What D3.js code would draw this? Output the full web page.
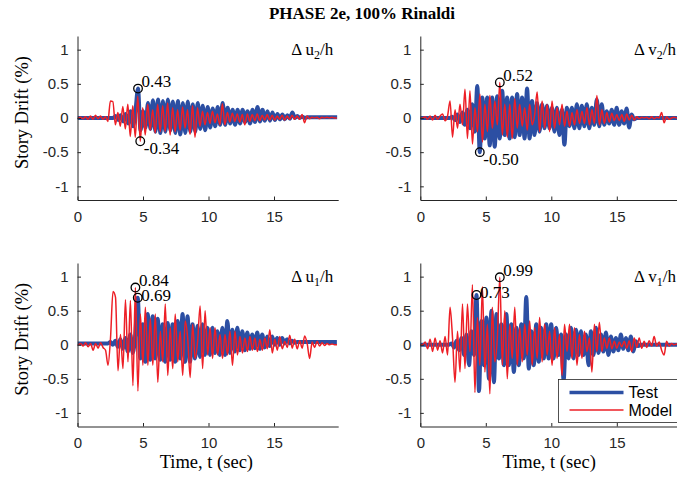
<!DOCTYPE html>
<html>
<head>
<meta charset="utf-8">
<script src="https://cdn.jsdelivr.net/npm/d3@7"></script>
<style>
    body { margin: 0; background: #fff; }
    svg { display: block; }
    .tick text { font-family: "Liberation Sans", Arial, sans-serif; font-size: 15px; fill: #262626; }
    .tick line, .domain { stroke: #262626; }
    .serif { font-family: "Liberation Serif", "Times New Roman", serif; fill: #000; }
    .legend-lab { font-family: "Liberation Sans", Arial, sans-serif; font-size: 16px; fill: #000; }
</style>
</head>
<body>
<div id="chart"></div>
<script>
// sampling step of the peak arrays (sec) and end of record
const DT = 0.19;
const T_END = 19.9;

const xTicks = [0, 5, 10, 15];
const yTicks = [-1, -0.5, 0, 0.5, 1];
const seriesNames = ['Test', 'Model'];

// ---- Delta u2 / h (upper floor, u direction) ----
const u2TestStart = 0.06;
const u2Test = [0, 0, 0, 0, 0, 0, 0, 0, 0, 0, 0, 0, 0, 0,
    0, 0.03, -0.03, 0.04, -0.05, 0.06, -0.08, 0.1, -0.12, 0.12,
    0.43, -0.18, 0.1, -0.14, 0.22, -0.16, 0.26, -0.2, 0.27, -0.22,
    0.25, -0.2, 0.27, -0.18, 0.24, -0.22, 0.25, -0.24, 0.22, -0.22,
    0.24, -0.2, 0.2, -0.2, 0.22, -0.16, 0.18, -0.18, 0.16, -0.14,
    0.14, -0.12, 0.16, -0.1, 0.22, -0.1, 0.15, -0.08, 0.12, -0.1,
    0.12, -0.08, 0.12, -0.06, 0.1, -0.08, 0.12, -0.06, 0.16, -0.05,
    0.12, -0.04, 0.1, -0.04, 0.08, -0.03, 0.06, -0.02, 0.05, -0.02,
    0.04, -0.01, 0.08, 0, 0.03, 0, 0.02, 0,
    0.01, 0.01, 0.01, 0.01, 0.01, 0.01, 0.01, 0.01, 0.01, 0.01, 0.01, 0.01, 0.01];
const u2ModelStart = 0.04;
const u2Model = [0, 0.01, -0.01, 0.02, -0.02, 0.03, -0.02, 0.04, -0.01, 0.03,
    -0.02, 0.02, -0.05, 0.25, 0.24, -0.1, 0.08, -0.12, 0.17, -0.16,
    0.2, -0.27, 0.18, -0.28, 0.32, -0.34, 0.15, -0.25, 0.2, -0.18,
    0.12, -0.22, 0.2, -0.2, 0.18, -0.2, 0.22, -0.25, 0.15, -0.2,
    0.12, -0.18, 0.16, -0.15, 0.12, -0.24, 0.18, -0.28, 0.15, -0.12,
    0.1, -0.1, 0.08, -0.08, 0.1, -0.07, 0.06, -0.1, 0.21, -0.1,
    0.08, -0.06, 0.07, -0.05, 0.06, -0.06, 0.05, -0.1, 0.06, -0.05,
    0.05, -0.04, 0.06, -0.04, 0.04, -0.03, 0.05, -0.03, 0.04, -0.03,
    0.03, -0.02, 0.04, -0.03, 0.03, -0.02, 0.04, -0.02, 0.03, -0.02,
    0.05, -0.07, 0.03, -0.01, 0.01, 0, 0.01, -0.01, 0.01, 0,
    0.01, 0, 0.01, 0, 0];
const u2Marks = [['Test', 'max'], ['Model', 'min']];

// ---- Delta v2 / h ----
const v2TestStart = 0.17;
const v2Test = [0, 0, 0, 0, 0, 0, 0, 0, 0, 0, 0, 0,
    0.02, -0.03, 0.05, -0.06, 0.08, -0.1, 0.12, -0.15, 0.2, -0.2,
    0.47, -0.5, 0.3, -0.3, 0.3, -0.4, 0.3, -0.42, 0.32, -0.3,
    0.4, -0.25, 0.3, -0.3, 0.3, -0.28, 0.35, -0.25, 0.3, -0.3,
    0.43, -0.3, 0.25, -0.25, 0.22, -0.2, 0.2, -0.15, 0.18, -0.15,
    0.15, -0.2, 0.15, -0.25, 0.12, -0.39, 0.15, -0.12, 0.15, -0.15,
    0.2, -0.15, 0.18, -0.12, 0.2, -0.15, 0.15, -0.1, 0.27, -0.12,
    0.2, -0.1, 0.1, -0.08, 0.12, -0.1, 0.15, -0.1, 0.1, -0.08,
    0.14, -0.14, 0.05, -0.02,
    0, 0, 0, 0, 0, 0, 0, 0, 0, 0, 0, 0, 0, 0, 0, 0, 0, 0];
const v2ModelStart = 0.18;
const v2Model = [0, 0.02, -0.02, 0.03, -0.03, 0.04, -0.02, 0.03, 0.06, -0.04,
    0.03, 0.25, -0.28, 0.12, -0.15, 0.2, -0.1, 0.42, -0.3, 0.4,
    -0.38, 0.15, -0.2, 0.35, -0.35, 0.2, -0.2, 0.33, -0.15, 0.25,
    -0.1, 0.52, -0.25, 0.2, -0.28, 0.2, -0.3, 0.28, -0.15, 0.2,
    -0.12, 0.15, -0.18, 0.2, -0.1, 0.05, 0.38, -0.2, 0.25, -0.15,
    0.2, -0.2, 0.25, -0.15, 0.15, -0.1, 0.2, -0.12, 0.1, -0.12,
    0.08, -0.1, 0.12, -0.08, 0.1, -0.08, 0.15, -0.1, 0.12, -0.08,
    0.33, -0.1, 0.12, -0.08, 0.08, -0.06, 0.07, -0.04, 0.05, -0.04,
    0.05, -0.05, 0.06, -0.03, 0.04, -0.03, 0.02, -0.01, 0.01, 0,
    0.01, -0.01, 0.02, -0.01, 0.01, 0, 0.08, -0.07, 0.02, -0.02,
    0, 0.01, 0, 0];
const v2Marks = [['Model', 'max'], ['Test', 'min']];

// ---- Delta u1 / h ----
const u1TestStart = 0.04;
const u1Test = [0.02, 0.02, 0.02, 0.02, 0.02, 0.02, 0.02, 0.02, 0.02, 0.02, 0.02, 0.02, 0.02,
    0.04, 0, 0.06, -0.03, 0.08, -0.06, 0.1, -0.1, 0.15, -0.12, 0.15,
    0.69, -0.2, 0.3, -0.25, 0.45, -0.22, 0.42, -0.2, 0.38, -0.22,
    0.3, -0.25, 0.32, -0.22, 0.3, -0.25, 0.35, -0.2, 0.45, -0.25,
    0.42, -0.25, 0.3, -0.2, 0.28, -0.18, 0.3, -0.15, 0.25, -0.15,
    0.25, -0.12, 0.2, -0.15, 0.25, -0.15, 0.35, -0.12, 0.22, -0.1,
    0.25, -0.08, 0.2, -0.08, 0.18, -0.06, 0.15, -0.05, 0.18, -0.06,
    0.15, -0.04, 0.12, -0.02, 0.12, 0, 0.1, 0, 0.1, 0.02,
    0.08, 0.02, 0.06, 0.03,
    0.04, 0.04, 0.04, 0.04, 0.04, 0.04, 0.04, 0.04, 0.04, 0.04, 0.04, 0.04, 0.04, 0.04, 0.04, 0.04, 0.04];
const u1ModelStart = 0.05;
const u1Model = [0, 0.02, -0.02, 0.03, -0.03, 0.02, -0.08, 0.02, -0.05, 0.03,
    -0.04, -0.08, -0.3, 0.1, 0.78, 0.7, -0.38, 0.15, -0.35, 0.66,
    -0.25, 0.65, -0.6, 0.84, -0.68, 0.45, -0.3, 0.55, -0.3, 0.38,
    -0.3, 0.45, -0.55, 0.2, -0.25, 0.6, -0.45, 0.25, -0.35, 0.45,
    -0.25, 0.2, -0.45, 0.35, 0.1, -0.48, 0.3, -0.2, 0.05, 0.57,
    -0.35, 0.5, -0.15, 0.25, -0.2, 0.25, -0.15, 0.15, -0.2, 0.15,
    -0.15, 0.2, -0.3, 0.2, -0.15, 0.12, -0.12, 0.1, -0.1, 0.12,
    -0.08, 0.1, -0.1, 0.08, -0.08, 0.1, -0.06, 0.22, -0.12, 0.08,
    -0.08, 0.12, -0.06, 0.05, -0.04, 0.14, -0.05, 0.08, -0.06, 0.06,
    -0.05, 0.13, 0.02, -0.2, 0.04, -0.04, 0.05, -0.02, 0.03, -0.01,
    0.02, 0, 0.01, 0, 0];
const u1Marks = [['Model', 'max'], ['Test', 'max']];

// ---- Delta v1 / h ----
const v1TestStart = 0.11;
const v1Test = [0, 0, 0, 0, 0, 0, 0, 0, 0, 0, 0, 0,
    0.02, -0.04, 0.06, -0.08, 0.1, -0.15, 0.15, -0.3, 0.2, -0.15,
    0.73, -0.68, 0.35, -0.3, 0.4, -0.5, 0.5, -0.55, 0.45, -0.2,
    0.3, -0.3, 0.45, -0.3, 0.3, -0.4, 0.25, -0.3, 0.3, -0.2,
    0.7, -0.35, 0.2, -0.3, 0.3, -0.25, 0.25, -0.2, 0.3, -0.2,
    0.3, -0.2, 0.25, -0.15, 0.15, -0.52, 0.15, -0.2, 0.25, -0.2,
    0.22, -0.15, 0.2, -0.15, 0.15, -0.3, 0.2, -0.15, 0.25, -0.12,
    0.15, -0.1, 0.18, -0.15, 0.12, -0.1, 0.1, -0.08, 0.15, -0.06,
    0.1, -0.08, 0.12, -0.1, 0.05, -0.02,
    0, 0, 0, 0, 0, 0, 0, 0, 0, 0, 0, 0, 0, 0, 0, 0];
const v1ModelStart = 0.18;
const v1Model = [0, 0.04, -0.06, 0.08, -0.1, 0.1, -0.08, 0.06, -0.12, 0.12,
    -0.15, 0.55, 0.1, -0.55, 0.2, -0.4, 0.6, -0.35, 0.6, -0.1,
    0.88, -0.7, 0.4, -0.3, 0.85, -0.4, 0.3, -0.72, 0.55, -0.25,
    0.1, 0.99, -0.3, 0.5, -0.5, 0.3, -0.2, 0.55, -0.3, 0.25,
    -0.25, 0.3, -0.15, 0.35, -0.3, 0.25, -0.2, 0.4, -0.25, 0.3,
    -0.15, 0.2, -0.3, 0.25, -0.2, 0.15, -0.45, 0.3, -0.1, 0.3,
    -0.2, 0.25, -0.3, 0.15, -0.2, 0.2, -0.1, 0.1, -0.4, 0.3,
    -0.1, 0.33, -0.1, 0.1, -0.05, 0.1, -0.06, 0.05, -0.05, 0.04,
    -0.03, 0.05, -0.05, 0.06, -0.1, 0.1, -0.04, 0.1, -0.05, 0.05,
    -0.04, 0.06, -0.02, 0.12, -0.02, 0.04, -0.08, -0.15, 0.05, -0.02,
    0.02, 0, 0.01, 0];
const v1Marks = [['Test', 'max'], ['Model', 'max']];

const colors = {Test: '#2c4fa3', Model: '#ed1f26'};

class DriftPanel {
    constructor(svg, opts) {
        this.svg = svg;
        this.opts = opts;
        this.initVis();
    }

    initVis() {
        let vis = this;
        let o = vis.opts;

        vis.x = d3.scaleLinear().domain([0, T_END]).range([o.left, o.right]);
        vis.y = d3.scaleLinear().domain([-1.2, 1.2]).range([o.bottom, o.top]);

        vis.g = vis.svg.append('g');

        // clip lines to the axes box
        vis.g.append('clipPath').attr('id', 'clip-' + o.id)
            .append('rect')
            .attr('x', o.left).attr('y', o.top)
            .attr('width', o.right - o.left).attr('height', o.bottom - o.top);

        // series -> [t, v] points
        vis.series = {};
        seriesNames.forEach(name => {
            let vals = o.data[name], t0 = o.start[name];
            let pts = vals.map((v, i) => [t0 + i * DT, v]).filter(p => p[0] <= T_END);
            pts.unshift([0, vals[0]]);
            vis.series[name] = pts;
        });

        vis.updateVis();
    }

    updateVis() {
        let vis = this;
        let o = vis.opts;

        let line = d3.line()
            .x(d => vis.x(d[0]))
            .y(d => vis.y(d[1]))
            .curve(d3.curveMonotoneX);

        vis.g.append('g').attr('clip-path', `url(#clip-${o.id})`)
            .selectAll('path')
            .data(seriesNames)
            .enter().append('path')
            .attr('d', d => line(vis.series[d]))
            .attr('fill', 'none')
            .attr('stroke', d => colors[d])
            .attr('stroke-width', d => d === 'Test' ? 4 : 1.5)
            .attr('stroke-linejoin', 'round');

        // axes (MATLAB style, ticks pointing in)
        vis.g.append('g')
            .attr('transform', `translate(${o.left},0)`)
            .call(d3.axisLeft(vis.y).tickValues(yTicks).tickFormat(d => String(d))
                .tickSizeInner(-3.5).tickSizeOuter(0).tickPadding(9));

        vis.g.append('g')
            .attr('transform', `translate(0,${o.bottom})`)
            .call(d3.axisBottom(vis.x).tickValues(xTicks).tickFormat(d => String(d))
                .tickSizeInner(-3.5).tickSizeOuter(0).tickPadding(11));

        vis.g.selectAll('.domain').attr('stroke-width', 1);

        // peak circles and values
        let peaks = o.marks.map(m => {
            let pts = vis.series[m[0]];
            let p = m[1] === 'max' ? d3.greatest(pts, d => d[1]) : d3.least(pts, d => d[1]);
            return {kind: m[1], v: p[1], cx: vis.x(p[0]), cy: vis.y(p[1])};
        });
        peaks.forEach(p => { p.dy = p.kind === 'max' ? 1.5 : 11; });
        // two maxima side by side: spread their labels a little
        if (peaks.length === 2 && Math.abs(peaks[0].cx - peaks[1].cx) < 30) {
            let [hi, lo] = peaks[0].cy < peaks[1].cy ? peaks : [peaks[1], peaks[0]];
            hi.dy -= 3;
            lo.dy += 1.5;
        }
        peaks.forEach(p => {
            vis.g.append('circle')
                .attr('cx', p.cx).attr('cy', p.cy).attr('r', 4.3)
                .attr('fill', 'none').attr('stroke', '#000').attr('stroke-width', 1.3);
            vis.g.append('text')
                .attr('class', 'serif')
                .attr('x', p.cx + 3.5)
                .attr('y', p.cy + p.dy)
                .style('font-size', '17px')
                .text(p.v.toFixed(2));
        });

        // panel name, e.g. "Δ u2/h"
        let lab = vis.g.append('text')
            .attr('class', 'serif')
            .attr('x', o.right - 5)
            .attr('y', o.top + 19)
            .attr('text-anchor', 'end')
            .style('font-size', '17px');
        lab.append('tspan').text('Δ ' + o.name[0]);
        lab.append('tspan').attr('dy', 4).style('font-size', '12px').text(o.name[1]);
        lab.append('tspan').attr('dy', -4).text('/h');

        if (o.yLabel) {
            vis.g.append('text')
                .attr('class', 'serif')
                .attr('transform', `translate(28,${(o.top + o.bottom) / 2 - 5.5}) rotate(-90)`)
                .attr('text-anchor', 'middle')
                .style('font-size', '18.5px')
                .text('Story Drift (%)');
        }
        if (o.xLabel) {
            vis.g.append('text')
                .attr('class', 'serif')
                .attr('x', (o.left + o.right) / 2 - 1.5)
                .attr('y', o.bottom + 41.5)
                .attr('text-anchor', 'middle')
                .style('font-size', '18.5px')
                .text('Time, t (sec)');
        }

        if (o.legend) {
            let lg = vis.g.append('g')
                .attr('transform', `translate(${o.right - 122.5},${o.bottom - 47})`);
            lg.append('rect')
                .attr('width', 130).attr('height', 43)
                .attr('fill', '#fff').attr('stroke', '#262626').attr('stroke-width', 0.8);
            seriesNames.forEach((name, i) => {
                lg.append('line')
                    .attr('x1', 11).attr('x2', 65)
                    .attr('y1', 13 + i * 17.5).attr('y2', 13 + i * 17.5)
                    .attr('stroke', colors[name])
                    .attr('stroke-width', name === 'Test' ? 3.5 : 1.5);
                lg.append('text')
                    .attr('class', 'legend-lab')
                    .attr('x', 70).attr('y', 13 + i * 17.5)
                    .attr('dy', '0.35em')
                    .text(name);
            });
        }
    }
}

const svg = d3.select('#chart').append('svg')
    .attr('width', 677).attr('height', 481);

svg.append('text')
    .attr('class', 'serif')
    .attr('x', 362).attr('y', 19)
    .attr('text-anchor', 'middle')
    .style('font-size', '17px')
    .style('font-weight', 'bold')
    .text('PHASE 2e, 100% Rinaldi');

const cols = [{left: 77.5, right: 338.2}, {left: 420.3, right: 681}];
const rows = [{top: 36, bottom: 200}, {top: 263, bottom: 426.5}];

new DriftPanel(svg, {id: 'u2', ...cols[0], ...rows[0], name: ['u', '2'],
    data: {Test: u2Test, Model: u2Model}, start: {Test: u2TestStart, Model: u2ModelStart},
    marks: u2Marks, yLabel: true});
new DriftPanel(svg, {id: 'v2', ...cols[1], ...rows[0], name: ['v', '2'],
    data: {Test: v2Test, Model: v2Model}, start: {Test: v2TestStart, Model: v2ModelStart},
    marks: v2Marks});
new DriftPanel(svg, {id: 'u1', ...cols[0], ...rows[1], name: ['u', '1'],
    data: {Test: u1Test, Model: u1Model}, start: {Test: u1TestStart, Model: u1ModelStart},
    marks: u1Marks, yLabel: true, xLabel: true});
new DriftPanel(svg, {id: 'v1', ...cols[1], ...rows[1], name: ['v', '1'],
    data: {Test: v1Test, Model: v1Model}, start: {Test: v1TestStart, Model: v1ModelStart},
    marks: v1Marks, xLabel: true, legend: true});
</script>
</body>
</html>
